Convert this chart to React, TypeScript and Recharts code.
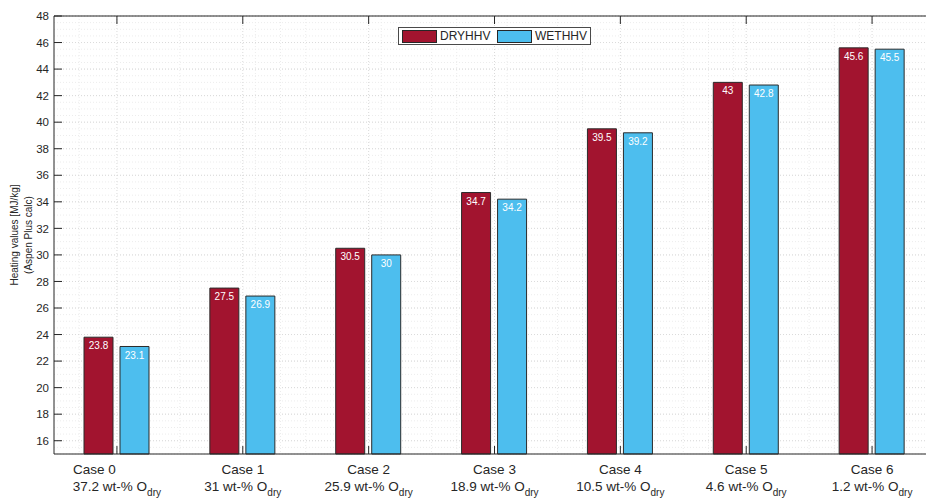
import {
  BarChart,
  Bar,
  XAxis,
  YAxis,
  CartesianGrid,
  Legend,
  LabelList,
} from "recharts";

const cases = ["Case 0", "Case 1", "Case 2", "Case 3", "Case 4", "Case 5", "Case 6"];
const oxygenDry = ["37.2", "31", "25.9", "18.9", "10.5", "4.6", "1.2"];
const dryHHV = [23.8, 27.5, 30.5, 34.7, 39.5, 43, 45.6];
const wetHHV = [23.1, 26.9, 30, 34.2, 39.2, 42.8, 45.5];
const yTicks = [16, 18, 20, 22, 24, 26, 28, 30, 32, 34, 36, 38, 40, 42, 44, 46, 48];

const FONT = "'Liberation Sans', Arial, sans-serif";
const INK = "#262626";
const DRY = "#A2142F";
const WET = "#4DBEEE";

const data = cases.map((name, i) => ({
  name,
  idx: i,
  dry: dryHHV[i],
  wet: wetHHV[i],
}));

// grid lines (minor every 0.5 on y, fifth of a category on x)
const yMinor: number[] = [];
for (let v = 15; v <= 48; v += 0.5) yMinor.push(v);
const xMinor: number[] = [];
for (let k = 0; k <= 35; k++) xMinor.push(-0.5 + k * 0.2);
const xMajor = cases.map((_, i) => i);

const BottomTick = (props: any) => {
  const { x, y, payload } = props;
  const i = payload.index;
  const first = i === 0;
  return (
    <g fontFamily={FONT} fill={INK}>
      <line x1={x} x2={x} y1={y} y2={y - 8} stroke={INK} />
      <text
        x={first ? x - 44 : x}
        y={y + 19.5}
        textAnchor={first ? "start" : "middle"}
        fontSize={13.5}
        fill={INK}
      >
        {cases[i]}
      </text>
      <text x={x} y={y + 37} textAnchor="middle" fontSize={13.5} fill={INK}>
        {oxygenDry[i]} wt-% O
        <tspan dy={5} fontSize={10}>
          dry
        </tspan>
      </text>
    </g>
  );
};

const TopTick = (props: any) => {
  const { x, y } = props;
  return <line x1={x} x2={x} y1={y} y2={y + 8} stroke={INK} />;
};

const LeftTick = (props: any) => {
  const { x, y, payload } = props;
  return (
    <g>
      <line x1={x} x2={x + 8} y1={y} y2={y} stroke={INK} />
      <text
        x={x - 5}
        y={y}
        dy="0.36em"
        textAnchor="end"
        fontSize={11.5}
        fontFamily={FONT}
        fill={INK}
      >
        {payload.value}
      </text>
    </g>
  );
};

const RightTick = (props: any) => {
  const { x, y } = props;
  return <line x1={x} x2={x - 8} y1={y} y2={y} stroke={INK} />;
};

const YLabel = (props: any) => {
  const vb = props.viewBox;
  const cy = vb.y + vb.height / 2;
  return (
    <g fontFamily={FONT} fontSize={10} fill={INK}>
      <text
        transform={`translate(14.5, ${cy}) rotate(-90)`}
        textAnchor="middle"
        dominantBaseline="central"
        fill={INK}
      >
        Heating values [MJ/kg]
      </text>
      <text
        transform={`translate(28, ${cy}) rotate(-90)`}
        textAnchor="middle"
        dominantBaseline="central"
        fill={INK}
      >
        (Aspen Plus calc)
      </text>
    </g>
  );
};

const LegendBox = () => (
  <div
    style={{
      display: "flex",
      alignItems: "center",
      boxSizing: "border-box",
      width: 193,
      height: 18,
      border: "1px solid #4a4a4a",
      background: "#fff",
      fontFamily: FONT,
      fontSize: 12,
      color: INK,
      paddingLeft: 3,
    }}
  >
    <span
      style={{
        width: 33,
        height: 11,
        background: DRY,
        border: `1px solid ${INK}`,
      }}
    />
    <span style={{ marginLeft: 3, width: 57 }}>DRYHHV</span>
    <span
      style={{
        width: 33,
        height: 11,
        background: WET,
        border: `1px solid ${INK}`,
      }}
    />
    <span style={{ marginLeft: 3 }}>WETHHV</span>
  </div>
);

export default function App() {
  return (
    <div
      style={{
        position: "fixed",
        top: 0,
        left: 0,
        width: 926,
        height: 500,
        overflow: "hidden",
        background: "#fff",
      }}
    >
      <BarChart
        width={944}
        height={500}
        data={data}
        margin={{ top: 0, right: 0, bottom: 0, left: 0 }}
        barGap={7}
        style={{ fontFamily: FONT }}
      >
        <XAxis xAxisId="grid" type="number" dataKey="idx" domain={[-0.5, 6.5]} hide />
        <CartesianGrid
          xAxisId="grid"
          horizontalValues={yMinor}
          verticalValues={xMinor}
          stroke="#ececec"
          strokeDasharray="1 2"
        />
        <CartesianGrid
          xAxisId="grid"
          horizontalValues={yTicks}
          verticalValues={xMajor}
          stroke="#dadada"
          strokeDasharray="1 2"
        />
        <XAxis
          dataKey="name"
          height={46}
          tickSize={0}
          tickMargin={0}
          tickLine={false}
          axisLine={{ stroke: INK }}
          tick={<BottomTick />}
          interval={0}
        />
        <XAxis
          xAxisId="top"
          orientation="top"
          dataKey="name"
          height={16}
          tickSize={0}
          tickMargin={0}
          tickLine={false}
          axisLine={{ stroke: INK }}
          tick={<TopTick />}
          interval={0}
        />
        <YAxis
          width={54}
          domain={[15, 48]}
          ticks={yTicks}
          interval={0}
          tickSize={0}
          tickMargin={0}
          tickLine={false}
          axisLine={{ stroke: INK }}
          tick={<LeftTick />}
          label={{ content: <YLabel /> }}
        />
        <YAxis
          yAxisId="right"
          orientation="right"
          width={9}
          domain={[15, 48]}
          ticks={yTicks}
          interval={0}
          tickSize={0}
          tickMargin={0}
          tickLine={false}
          axisLine={{ stroke: INK }}
          tick={<RightTick />}
        />
        <Legend
          layout="horizontal"
          verticalAlign="middle"
          align="center"
          content={<LegendBox />}
          wrapperStyle={{ position: "absolute", top: 27, left: 398, width: 193 }}
        />
        <Bar
          dataKey="dry"
          name="DRYHHV"
          fill={DRY}
          stroke="#2b2b2b"
          strokeWidth={1}
          barSize={29}
          isAnimationActive={false}
        >
          <LabelList
            dataKey="dry"
            position="insideTop"
            offset={5}
            fill="#fff"
            fontSize={10}
            fontFamily={FONT}
          />
        </Bar>
        <Bar
          dataKey="wet"
          name="WETHHV"
          fill={WET}
          stroke="#2b2b2b"
          strokeWidth={1}
          barSize={29}
          isAnimationActive={false}
        >
          <LabelList
            dataKey="wet"
            position="insideTop"
            offset={5}
            fill="#fff"
            fontSize={10}
            fontFamily={FONT}
          />
        </Bar>
      </BarChart>
    </div>
  );
}
